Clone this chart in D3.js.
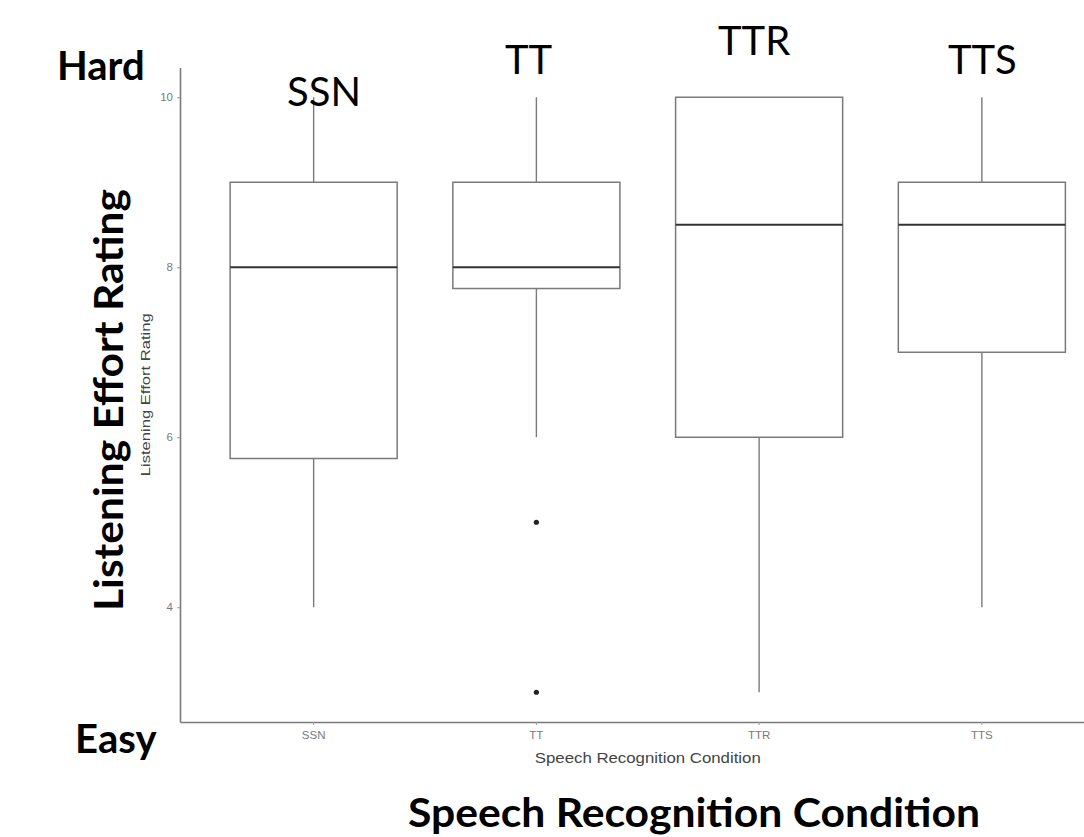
<!DOCTYPE html>
<html>
<head>
<meta charset="utf-8">
<script src="https://cdn.jsdelivr.net/npm/d3@7"></script>
<style>
  body { margin: 0; background: #fff; }
  svg { display: block; }
</style>
</head>
<body>
<div id="chart"></div>
<script>
// box plot summary per condition
var categories = ["SSN", "TT", "TTR", "TTS"];
var lowerWhisker = [4, 6, 3, 4];
var q1 = [5.75, 7.75, 6, 7];
var median = [8, 8, 8.5, 8.5];
var q3 = [9, 9, 10, 9];
var upperWhisker = [10, 10, 10, 10];
var outliers = [[], [5, 3], [], []];
var yTicks = [4, 6, 8, 10];

// big overlay labels pasted on top of the plot
var bigLabels = [
  {text: "Hard", x: 57, y: 80, bold: true},
  {text: "Easy", x: 75, y: 753, bold: true},
  {text: "SSN", x: 287, y: 106, bold: false},
  {text: "TT", x: 505, y: 74, bold: false},
  {text: "TTR", x: 718, y: 55, bold: false},
  {text: "TTS", x: 948, y: 74, bold: false}
];

var data = categories.map(function(c, i) {
  return {cat: c, lo: lowerWhisker[i], q1: q1[i], med: median[i], q3: q3[i], hi: upperWhisker[i], out: outliers[i]};
});

var W = 1084, H = 837;
var plotLeft = 180, plotRight = 1115.5, plotTop = 67.5, plotBottom = 722;

var svg = d3.select("#chart")
  .append("svg")
    .attr("width", W)
    .attr("height", H);

var x = d3.scaleBand()
  .domain(categories)
  .range([plotLeft, plotRight])
  .paddingInner(0.25)
  .paddingOuter(0.225);

var y = d3.scaleLinear()
  .domain([2.65, 10.35])
  .range([plotBottom, plotTop]);

// axes, ggplot classic look
var yAxis = svg.append("g")
  .attr("transform", "translate(" + plotLeft + ",0)")
  .call(d3.axisLeft(y).tickValues(yTicks).tickSize(3).tickSizeOuter(0).tickPadding(4));
var xAxis = svg.append("g")
  .attr("transform", "translate(0," + plotBottom + ")")
  .call(d3.axisBottom(x).tickSize(3).tickSizeOuter(0).tickPadding(6));

[yAxis, xAxis].forEach(function(a) {
  a.select(".domain").attr("stroke", "#7a7a7a").attr("stroke-width", 1.6);
  a.selectAll(".tick line").attr("stroke", "#9a9a9a");
  a.selectAll(".tick text")
    .attr("fill", "#7a7a7a")
    .style("font-family", "Liberation Sans, Arial, sans-serif")
    .style("font-size", "11.5px");
});

var g = svg.selectAll(".box")
  .data(data)
  .enter().append("g")
    .attr("class", "box");

var cx = function(d) { return x(d.cat) + x.bandwidth() / 2; };

// whiskers
g.append("line")
  .attr("x1", cx).attr("x2", cx)
  .attr("y1", function(d) { return y(d.q3); })
  .attr("y2", function(d) { return y(d.hi); })
  .attr("stroke", "#7a7a7a").attr("stroke-width", 1.4);
g.append("line")
  .attr("x1", cx).attr("x2", cx)
  .attr("y1", function(d) { return y(d.q1); })
  .attr("y2", function(d) { return y(d.lo); })
  .attr("stroke", "#7a7a7a").attr("stroke-width", 1.4);

g.append("rect")
  .attr("x", function(d) { return x(d.cat); })
  .attr("y", function(d) { return y(d.q3); })
  .attr("width", x.bandwidth())
  .attr("height", function(d) { return y(d.q1) - y(d.q3); })
  .attr("fill", "#fff")
  .attr("stroke", "#7a7a7a")
  .attr("stroke-width", 1.5);

g.append("line")
  .attr("x1", function(d) { return x(d.cat); })
  .attr("x2", function(d) { return x(d.cat) + x.bandwidth(); })
  .attr("y1", function(d) { return y(d.med); })
  .attr("y2", function(d) { return y(d.med); })
  .attr("stroke", "#333").attr("stroke-width", 2.2);

g.selectAll(".out")
  .data(function(d) { return d.out.map(function(v) { return {cat: d.cat, v: v}; }); })
  .enter().append("circle")
    .attr("class", "out")
    .attr("cx", cx)
    .attr("cy", function(d) { return y(d.v); })
    .attr("r", 2.6)
    .attr("fill", "#222");

// small original axis titles
svg.append("text")
  .attr("transform", "translate(150," + ((plotTop + plotBottom) / 2) + ") rotate(-90)")
  .attr("text-anchor", "middle")
  .style("font-family", "Liberation Sans, Arial, sans-serif")
  .style("font-size", "13px")
  .attr("textLength", 163)
  .attr("lengthAdjust", "spacingAndGlyphs")
  .attr("fill", "#444")
  .text("Listening Effort Rating");
svg.append("text")
  .attr("x", (plotLeft + plotRight) / 2)
  .attr("y", 763)
  .attr("text-anchor", "middle")
  .style("font-family", "Liberation Sans, Arial, sans-serif")
  .style("font-size", "14px")
  .attr("textLength", 226)
  .attr("lengthAdjust", "spacingAndGlyphs")
  .attr("fill", "#444")
  .text("Speech Recognition Condition");

// large overlay titles
svg.append("text")
  .attr("transform", "translate(123,611) rotate(-90)")
  .style("font-family", "Lato, sans-serif")
  .style("font-weight", "bold")
  .style("font-size", "40px")
  .attr("textLength", 422)
  .attr("lengthAdjust", "spacingAndGlyphs")
  .attr("fill", "#000")
  .text("Listening Effort Rating");
svg.append("text")
  .attr("x", 408)
  .attr("y", 827)
  .style("font-family", "Lato, sans-serif")
  .style("font-weight", "bold")
  .style("font-size", "40px")
  .attr("textLength", 572)
  .attr("lengthAdjust", "spacingAndGlyphs")
  .attr("fill", "#000")
  .text("Speech Recognition Condition");

svg.selectAll(".big")
  .data(bigLabels)
  .enter().append("text")
    .attr("class", "big")
    .attr("x", function(d) { return d.x; })
    .attr("y", function(d) { return d.y; })
    .style("font-family", "Lato, sans-serif")
    .style("font-weight", function(d) { return d.bold ? "bold" : "normal"; })
    .style("font-size", "40px")
    .attr("fill", "#000")
    .text(function(d) { return d.text; });
</script>
</body>
</html>
